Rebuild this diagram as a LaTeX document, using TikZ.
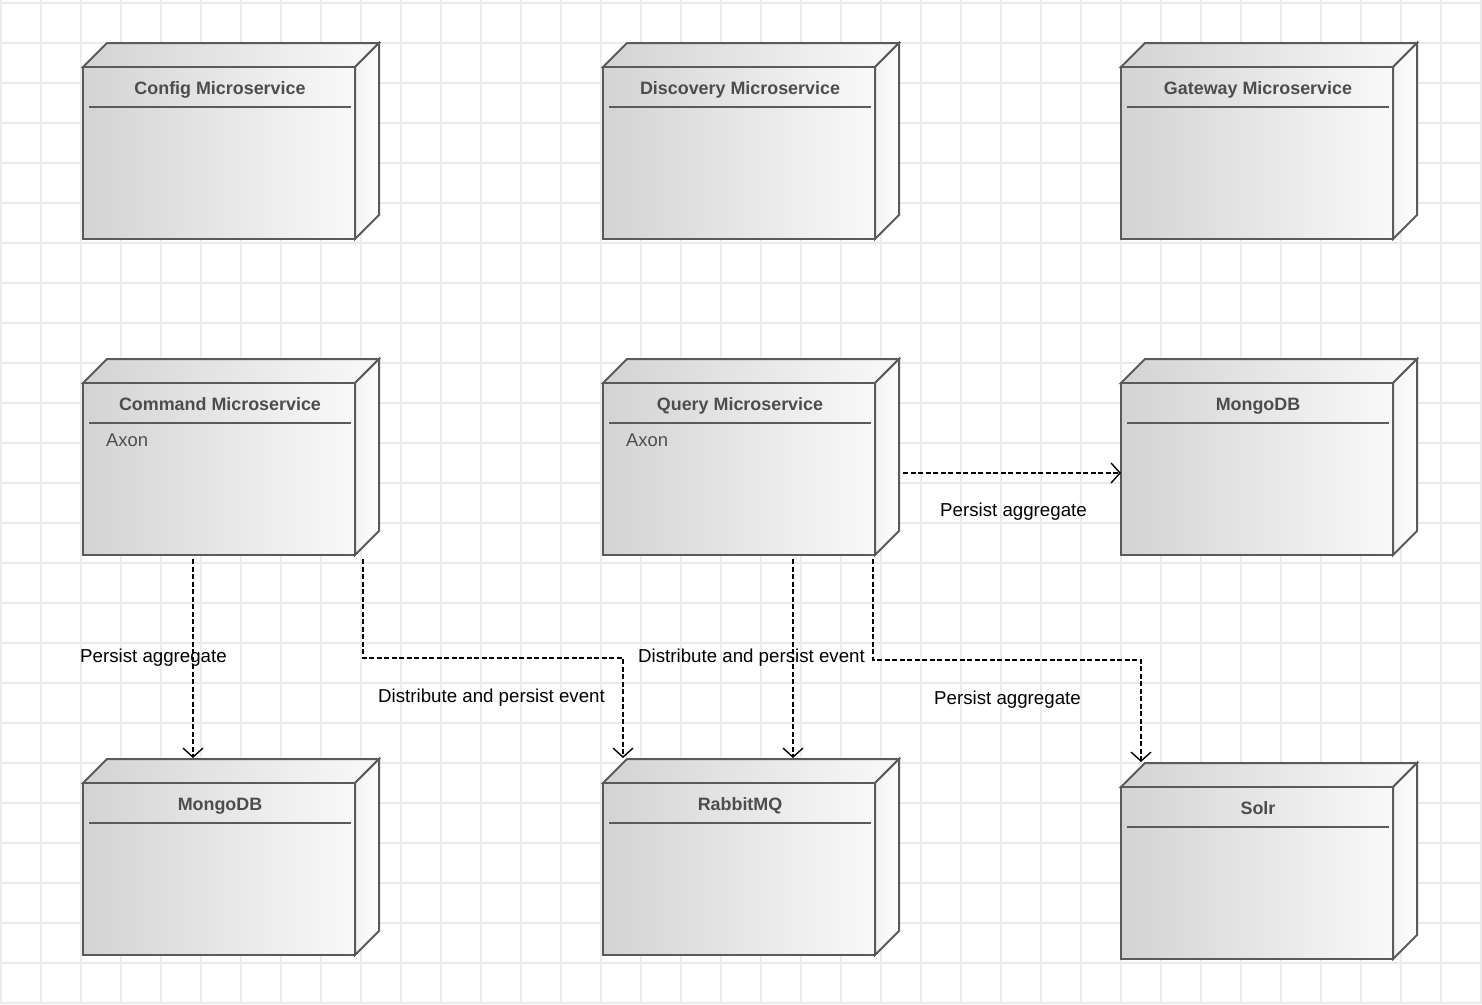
\documentclass[tikz,border=0pt]{standalone}
\usepackage{fontspec}
\setmainfont{Liberation Sans}
\usetikzlibrary{arrows.meta,calc}
\definecolor{gridc}{HTML}{EBEBEB}
\definecolor{edgec}{HTML}{5A5A5A}
\definecolor{titlec}{HTML}{4D4D4D}
\definecolor{shadeL}{HTML}{D3D3D3}
\definecolor{shadeR}{HTML}{F9F9F9}
\definecolor{sideL}{HTML}{F4F4F4}
\definecolor{sideR}{HTML}{FDFDFD}
\newcommand\udbox[6]{%
  % #1 name, #2 x, #3 y (front top-left), #4 title, #5 body
  \path[topface] (#2,#3) -- ++(24,-24) -- ++(272,0) -- ++(-24,24) -- cycle;
  \path[sideface] (#2+272,#3) -- ++(24,-24) -- ++(0,172) -- ++(-24,24) -- cycle;
  \node[frontface,anchor=north west] (#1) at (#2,#3) {};
  \draw[edgec,line width=2pt] ($(#1.north west)+(6,40)$) -- ($(#1.north east)+(-4,40)$);
  \node[titletxt] (#1-title) at ($(#1.north)+(1,27)$) {#4};
  \node[bodytxt] (#1-body) at ($(#1.north west)+(23,63)$) {#5};
}
\begin{document}
\begin{tikzpicture}[x=1pt,y=-1pt,
  topface/.style={draw=edgec,line width=2pt,left color=shadeL,right color=shadeR},
  sideface/.style={draw=edgec,line width=2pt,left color=sideL,right color=sideR},
  frontface/.style={draw=edgec,line width=2pt,left color=shadeL,right color=shadeR,
    minimum width=272pt,minimum height=172pt,inner sep=0pt,outer sep=0pt},
  titletxt/.style={anchor=base,inner sep=0pt,text=titlec,font=\fontsize{17.9}{22}\selectfont\bfseries},
  bodytxt/.style={anchor=base west,inner sep=0pt,text=titlec,font=\fontsize{18.4}{22}\selectfont},
  lbl/.style={anchor=base west,inner sep=0pt,text=black,font=\fontsize{18.7}{22}\selectfont},
  dep/.style={draw=black,line width=1.4pt,dash pattern=on 5pt off 2.5pt,
    -{Straight Barb[length=9pt,width=20pt,line width=1.4pt]}},
]
\useasboundingbox (0,0) rectangle (1482,1004);
\fill[white] (0,0) rectangle (1482,1004);
\foreach \i in {0,...,37} {\draw[gridc,line width=1.5pt] (1+40*\i,0) -- (1+40*\i,1004);}
\foreach \j in {0,...,25} {\draw[gridc,line width=1.5pt] (0,3+40*\j) -- (1482,3+40*\j);}

\udbox{config}{83}{67}{Config Microservice}{}{}
\udbox{discovery}{603}{67}{Discovery Microservice}{}{}
\udbox{gateway}{1121}{67}{Gateway Microservice}{}{}
\udbox{cmd}{83}{383}{Command Microservice}{Axon}{}
\udbox{query}{603}{383}{Query Microservice}{Axon}{}
\udbox{mongoq}{1121}{383}{MongoDB}{}{}
\udbox{mongoc}{83}{783}{MongoDB}{}{}
\udbox{rabbit}{603}{783}{RabbitMQ}{}{}
\udbox{solr}{1121}{787}{Solr}{}{}

% connectors
\draw[dep] ($(cmd.south)+(-26,4)$) -- ($(mongoc.north)+(-26,-25)$);
\draw[dep] ($(cmd.south)+(144,4)$) -- ++(0,99) -| ($(rabbit.north)+(-116,-25)$);
\draw[dep] ($(query.south)+(54,4)$) -- ($(rabbit.north)+(54,-25)$);
\draw[dep] ($(query.south)+(134,4)$) -- ++(0,101) -| ($(solr.north)+(-116,-25)$);
\draw[dep] ($(query.east)+(28,4)$) -- ($(mongoq.west)+(0,4)$);

% labels
\node[lbl] (l1) at (80,662) {Persist aggregate};
\node[lbl] (l2) at (378,702) {Distribute and persist event};
\node[lbl] (l3) at (638,662) {Distribute and persist event};
\node[lbl] (l4) at (934,704) {Persist aggregate};
\node[lbl] (l5) at (940,516) {Persist aggregate};
\end{tikzpicture}
\end{document}
